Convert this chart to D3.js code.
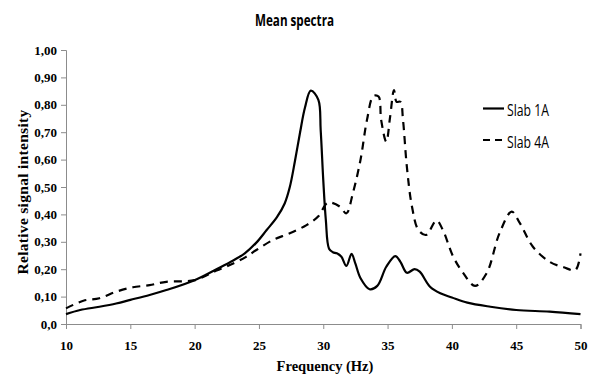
<!DOCTYPE html>
<html><head><meta charset="utf-8">
<script src="https://cdn.jsdelivr.net/npm/d3@7"></script>
<style>body{margin:0;background:#fff}svg{display:block}</style>
</head><body><svg id="c" width="592" height="378"></svg>
<script>
const freq1 = [10,11.1,12.6,13.9,15,16.5,17.8,20,21.7,23,23.9,24.8,25.6,26.4,27.0,27.4,27.8,28.2,28.58,29.03,29.62,29.8,30.0,30.2,30.45,30.75,31.05,31.4,31.8,32.2,32.5,32.9,33.6,34.2,34.9,35.6,36.0,36.5,37.1,37.5,38.3,39.1,40,41.2,43,45,47.6,50];
const slab1A = [0.036,0.051,0.063,0.075,0.088,0.106,0.124,0.16,0.2,0.232,0.258,0.297,0.343,0.39,0.44,0.5,0.595,0.7,0.79,0.852,0.818,0.708,0.526,0.38,0.275,0.262,0.258,0.246,0.212,0.256,0.22,0.167,0.127,0.139,0.209,0.248,0.227,0.187,0.2,0.191,0.136,0.112,0.097,0.078,0.063,0.051,0.045,0.036];
const freq4 = [10,11.35,12.6,13.9,15.2,16.5,17.8,20,21.7,23,24.0,24.8,26.1,27.4,28.7,29.6,30.27,30.6,31.3,31.8,32.3,32.9,33.4,33.9,34.3,34.5,34.9,35.2,35.5,35.7,36.0,36.2,36.5,36.9,37.4,38,38.8,39.3,40.1,40.9,41.8,42.7,43.7,44.65,45.3,46.3,47.6,48.7,49.6,50];
const slab4A = [0.057,0.085,0.094,0.118,0.134,0.142,0.154,0.16,0.195,0.221,0.245,0.27,0.307,0.331,0.361,0.392,0.44,0.443,0.428,0.404,0.477,0.6,0.745,0.832,0.83,0.745,0.665,0.757,0.854,0.811,0.811,0.745,0.574,0.428,0.343,0.325,0.378,0.343,0.246,0.185,0.139,0.185,0.331,0.41,0.367,0.282,0.227,0.207,0.197,0.258];
const xTicks = [10,15,20,25,30,35,40,45,50];
const yTicks = [0,0.1,0.2,0.3,0.4,0.5,0.6,0.7,0.8,0.9,1.0];
const yTickLabels = ["0,0","0,10","0,20","0,30","0,40","0,50","0,60","0,70","0,80","0,90","1,00"];
const seriesNames = ["Slab 1A","Slab 4A"];

const svg = d3.select("#c");
const x = d3.scaleLinear().domain([10,50]).range([66,580.5]);
const y = d3.scaleLinear().domain([0,1]).range([324,50]);
const serif = "'Liberation Serif','Times New Roman',serif";
const sans = "'Open Sans','Liberation Sans',sans-serif";

const xa = svg.append("g").attr("transform","translate(0,324)")
  .call(d3.axisBottom(x).tickValues(xTicks).tickSize(5).tickPadding(12).tickFormat(d3.format("d")));
const ya = svg.append("g").attr("transform","translate(66,0)")
  .call(d3.axisLeft(y).tickValues(yTicks).tickSize(5).tickPadding(4).tickFormat((d,i)=>yTickLabels[i]));
[xa,ya].forEach(a=>{
  a.selectAll("path,line").attr("stroke","#8c8c8c");
  a.selectAll("text").attr("font-family",serif).attr("font-weight","bold").attr("font-size","13px").attr("fill","#000");
});

const line = d3.line().x(d=>x(d[0])).y(d=>y(d[1])).curve(d3.curveCatmullRom.alpha(0.5));
svg.append("path").datum(freq1.map((f,i)=>[f,slab1A[i]])).attr("d",line)
  .attr("fill","none").attr("stroke","#000").attr("stroke-width",2.2);
svg.append("path").datum(freq4.map((f,i)=>[f,slab4A[i]])).attr("d",line)
  .attr("fill","none").attr("stroke","#000").attr("stroke-width",2.2).attr("stroke-dasharray","8,6");

svg.append("text").attr("x",255).attr("y",26)
  .attr("font-family",sans).attr("font-weight","bold").attr("font-size","15.5px")
  .attr("textLength",79).attr("lengthAdjust","spacingAndGlyphs").text("Mean spectra");
svg.append("text").attr("x",325).attr("y",371).attr("text-anchor","middle")
  .attr("font-family",serif).attr("font-weight","bold").attr("font-size","14.5px").text("Frequency (Hz)");
svg.append("text").attr("transform","translate(28,192) rotate(-90)").attr("text-anchor","middle")
  .attr("font-family",serif).attr("font-weight","bold").attr("font-size","15.5px").attr("letter-spacing","0.3px").text("Relative signal intensity");

const leg = svg.append("g");
seriesNames.forEach((n,i)=>{
  const ly = 108.5 + i*31.5;
  leg.append("line").attr("x1",483).attr("x2",504).attr("y1",ly).attr("y2",ly)
    .attr("stroke","#000").attr("stroke-width",2.2).attr("stroke-dasharray", i ? "7,5" : null);
  leg.append("text").attr("x",507).attr("y",ly+7.5).attr("font-family",sans).attr("font-size","15.5px")
    .attr("textLength",42).attr("lengthAdjust","spacingAndGlyphs").text(n);
});
</script></body></html>
